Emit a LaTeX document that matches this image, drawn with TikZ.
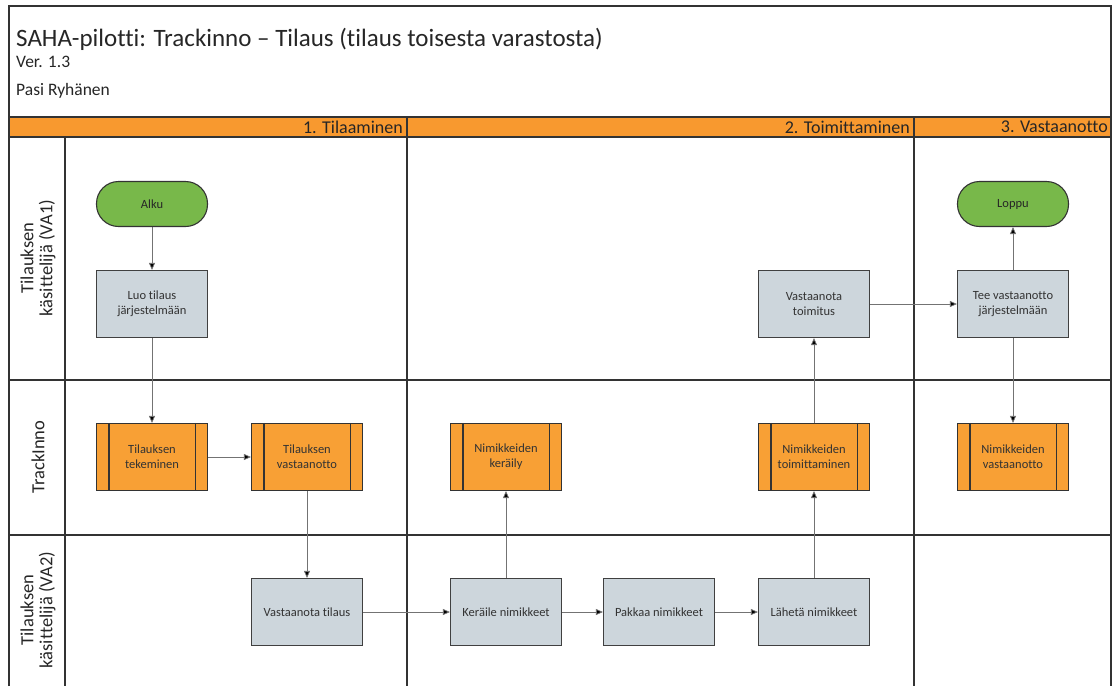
\documentclass[tikz,border=0pt]{standalone}
\usepackage{fontspec}
\setmainfont{Carlito}[Ligatures=NoCommon]
\usepackage{tikz}
\usetikzlibrary{arrows.meta}
\pgfdeclarelayer{gridlayer}
\pgfdeclarelayer{edgelayer}
\pgfdeclarelayer{nodelayer}
\pgfsetlayers{gridlayer,edgelayer,nodelayer,main}
\definecolor{termgreen}{HTML}{78B84A}
\definecolor{procgray}{HTML}{CDD6DC}
\definecolor{subpoorange}{HTML}{F8A035}
\definecolor{barorange}{HTML}{F8992F}
\definecolor{boxtext}{HTML}{333333}
\tikzstyle{grid}=[draw=black!80, line width=1.3pt]
\tikzstyle{edge}=[draw=black!55, line width=0.8pt, -{Triangle[length=7pt,width=6pt,fill=black]}]
\tikzstyle{process}=[rectangle, fill=procgray, draw=black!75, line width=1.1pt, minimum width=111pt, minimum height=67pt, align=center, font=\fontsize{12.5}{15}\selectfont, text=boxtext]
\tikzstyle{subprocess}=[process, fill=subpoorange, draw=black!80]
\tikzstyle{terminal}=[rectangle, rounded corners=22pt, fill=termgreen, draw=black!80, line width=1.1pt, minimum width=111pt, minimum height=45pt, font=\fontsize{12.5}{15}\selectfont, text=black!85]
\tikzstyle{lanelabel}=[rotate=90, align=center, font=\fontsize{18.5}{19}\selectfont, text=black!85]
\tikzstyle{phaselabel}=[anchor=east, inner sep=1pt, font=\fontsize{18}{20}\selectfont, text=black!85]

\begin{document}
\begin{tikzpicture}[x=1pt, y=-1pt]
			\useasboundingbox (0, 0) rectangle (1114, 686);
			\begin{pgfonlayer}{gridlayer}
			\fill[barorange] (9, 117) rectangle (1111, 137);
			\draw[grid] (9, 686) -- (9, 6) -- (1111, 6) -- (1111, 686);
			\draw[grid] (9, 117) -- (1111, 117);
			\draw[grid] (9, 137) -- (1111, 137);
			\draw[grid] (9, 380) -- (1111, 380);
			\draw[grid] (9, 535) -- (1111, 535);
			\draw[grid] (65, 137) -- (65, 686);
			\draw[grid] (407, 117) -- (407, 686);
			\draw[grid] (914, 117) -- (914, 686);
			\end{pgfonlayer}
			\node [anchor=base west, inner sep=0pt, font=\fontsize{25}{28}\selectfont, text=black!85] (title) at (16, 46) {SAHA-pilotti: Trackinno -- Tilaus (tilaus toisesta varastosta)};
			\node [anchor=base west, inner sep=0pt, font=\fontsize{17.5}{20}\selectfont, text=black!85] (ver) at (16, 67) {Ver. 1.3};
			\node [anchor=base west, inner sep=0pt, font=\fontsize{17.5}{20}\selectfont, text=black!85] (author) at (16, 95) {Pasi Ryhänen};
			\node [style=phaselabel] (p1) at (404, 127) {1. Tilaaminen};
			\node [style=phaselabel] (p2) at (911, 127) {2. Toimittaminen};
			\node [style=phaselabel] (p3) at (1109, 127) {3. Vastaanotto};
			\node [style=lanelabel] (l1) at (38, 258) {Tilauksen\\käsittelijä (VA1)};
			\node [style=lanelabel] (l2) at (38, 457) {TrackInno};
			\node [style=lanelabel] (l3) at (38, 610) {Tilauksen\\käsittelijä (VA2)};
			\begin{pgfonlayer}{nodelayer}
			\node [style=terminal] (0) at (152, 204) {Alku};
			\node [style=process] (1) at (152, 304) {Luo tilaus\\järjestelmään};
			\node [style=subprocess] (2) at (152, 457) {Tilauksen\\tekeminen};
			\node [style=subprocess] (3) at (307, 457) {Tilauksen\\vastaanotto};
			\node [style=process] (4) at (307, 612) {Vastaanota tilaus};
			\node [style=subprocess] (5) at (506, 457) {Nimikkeiden\\keräily};
			\node [style=process] (6) at (506, 612) {Keräile nimikkeet};
			\node [style=process] (7) at (659, 612) {Pakkaa nimikkeet};
			\node [style=process] (8) at (814, 612) {Lähetä nimikkeet};
			\node [style=subprocess] (9) at (814, 457) {Nimikkeiden\\toimittaminen};
			\node [style=process] (10) at (814, 304) {Vastaanota\\toimitus};
			\node [style=process] (11) at (1013, 304) {Tee vastaanotto\\järjestelmään};
			\node [style=terminal] (12) at (1013, 204) {Loppu};
			\node [style=subprocess] (13) at (1013, 457) {Nimikkeiden\\vastaanotto};
			% side bars of the subprocess boxes
			\foreach \n in {2, 3, 5, 9, 13} {
				\draw[draw=black!80, line width=1.1pt] ([xshift=13pt]\n.north west) -- ([xshift=13pt]\n.south west);
				\draw[draw=black!80, line width=1.1pt] ([xshift=-13pt]\n.north east) -- ([xshift=-13pt]\n.south east);
			}
			\end{pgfonlayer}
			\begin{pgfonlayer}{edgelayer}
			\draw [style=edge] (0) to (1);
			\draw [style=edge] (1) to (2);
			\draw [style=edge] (2) to (3);
			\draw [style=edge] (3) to (4);
			\draw [style=edge] (4) to (6);
			\draw [style=edge] (6) to (5);
			\draw [style=edge] (6) to (7);
			\draw [style=edge] (7) to (8);
			\draw [style=edge] (8) to (9);
			\draw [style=edge] (9) to (10);
			\draw [style=edge] (10) to (11);
			\draw [style=edge] (11) to (12);
			\draw [style=edge] (11) to (13);
			\end{pgfonlayer}
			\end{tikzpicture}
\end{document}
